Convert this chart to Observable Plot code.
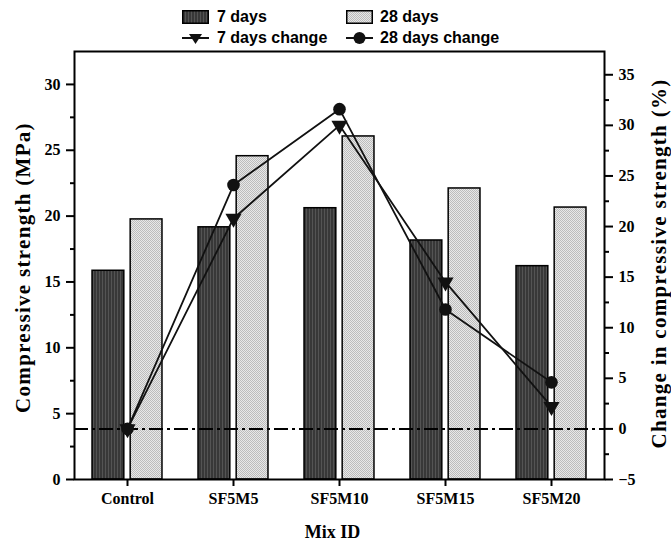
<!DOCTYPE html>
<html><head><meta charset="utf-8">
<script src="https://cdn.jsdelivr.net/npm/d3@7"></script>
<script src="https://cdn.jsdelivr.net/npm/@observablehq/plot@0.6"></script>
<style>
body{margin:0;background:#fff;}
#wrap{position:relative;width:671px;height:544px;overflow:hidden;}
#legend{position:absolute;left:0;top:0;width:671px;height:48px;font-family:"Liberation Sans",Arial,sans-serif;font-weight:bold;font-size:16px;color:#000;}
.sw{position:absolute;}
.lab{position:absolute;line-height:20px;white-space:nowrap;}
#chart{position:absolute;left:0;top:48px;}
</style></head><body>
<svg width="0" height="0" style="position:absolute">
<defs>
<pattern id="pDark" width="3" height="3" patternUnits="userSpaceOnUse"><rect width="3" height="3" fill="#383838"/><rect width="1" height="3" fill="#545454"/></pattern>
<pattern id="pLight" width="2" height="2" patternUnits="userSpaceOnUse"><rect width="2" height="2" fill="#e8e8e8"/><rect width="1" height="1" fill="#bcbcbc"/><rect x="1" y="1" width="1" height="1" fill="#bcbcbc"/></pattern>
</defs></svg>
<div id="wrap"><div id="legend"></div><div id="chart"></div></div>
<script>
// ---- data ----
const mixes = ["Control", "SF5M5", "SF5M10", "SF5M15", "SF5M20"];
const strength7 = [15.85, 19.15, 20.6, 18.15, 16.2];
const strength28 = [19.75, 24.55, 26.05, 22.1, 20.65];
const change7 = [0, 20.8, 30.0, 14.5, 2.2];
const change28 = [0, 24.1, 31.6, 11.8, 4.6];
const leftTicks = [0, 5, 10, 15, 20, 25, 30];
const leftMinor = [2.5, 7.5, 12.5, 17.5, 22.5, 27.5];
const rightTicks = [-5, 0, 5, 10, 15, 20, 25, 30, 35];
const rightMinor = [-2.5, 2.5, 7.5, 12.5, 17.5, 22.5, 27.5, 32.5];
const seriesNames = ["7 days", "28 days", "7 days change", "28 days change"];
const titles = ["Compressive strength (MPa)", "Change in compressive strength (%)", "Mix ID"];

// ---- scales ----
const leftDomain = [0, 32.5];
const rightDomain = [-5, 37.3];
const toLeft = r => (r - rightDomain[0]) * (leftDomain[1] - leftDomain[0]) / (rightDomain[1] - rightDomain[0]) + leftDomain[0];
const toRight = v => (v - leftDomain[0]) * (rightDomain[1] - rightDomain[0]) / (leftDomain[1] - leftDomain[0]) + rightDomain[0];

const rows = mixes.map((m, i) => ({mix: m, i, s7: strength7[i], s28: strength28[i], c7: change7[i], c28: change28[i]}));
const halfGap = 0.03, barW = 0.30;
const minus = v => (v < 0 ? "\u2212" + Math.abs(v) : String(v));

const chart = Plot.plot({
  width: 671,
  height: 496,
  marginTop: 3,
  marginBottom: 65,
  marginLeft: 74,
  marginRight: 67,
  style: {fontFamily: "'Liberation Serif','Times New Roman',serif", fontWeight: "bold", fontSize: "16px", color: "#000", background: "#fff", overflow: "visible"},
  x: {type: "linear", domain: [-0.5, 4.5]},
  y: {domain: leftDomain},
  marks: [
    Plot.rectY(rows, {x1: d => d.i - halfGap - barW, x2: d => d.i - halfGap, y1: 0, y2: "s7", fill: "url(#pDark)", stroke: "#000", strokeWidth: 1.5}),
    Plot.rectY(rows, {x1: d => d.i + halfGap, x2: d => d.i + halfGap + barW, y1: 0, y2: "s28", fill: "url(#pLight)", stroke: "#000", strokeWidth: 1.5}),
    Plot.ruleY([toLeft(0)], {stroke: "#000", strokeWidth: 2, strokeDasharray: "14,4,3,4"}),
    Plot.line(rows, {x: "i", y: d => toLeft(d.c7), stroke: "#111", strokeWidth: 1.8}),
    Plot.line(rows, {x: "i", y: d => toLeft(d.c28), stroke: "#111", strokeWidth: 1.8}),
    Plot.dot(rows, {x: "i", y: d => toLeft(d.c7), symbol: "triangle", rotate: 180, r: 6, fill: "#111", stroke: "none"}),
    Plot.dot(rows, {x: "i", y: d => toLeft(d.c28), symbol: "circle", r: 6.3, fill: "#111", stroke: "none"}),
    Plot.frame({stroke: "#000", strokeWidth: 2}),
    Plot.axisY({anchor: "left", ticks: leftTicks, tickSize: 8, tickPadding: 6, strokeWidth: 2, label: null}),
    Plot.axisY({anchor: "left", ticks: leftMinor, tickSize: 4, tickFormat: () => "", strokeWidth: 2, label: null}),
    Plot.axisY({anchor: "right", ticks: rightTicks.map(toLeft), tickSize: 8, tickPadding: 6, strokeWidth: 2, label: null, tickFormat: v => minus(Math.round(toRight(v)))}),
    Plot.axisY({anchor: "right", ticks: rightMinor.map(toLeft), tickSize: 4, tickFormat: () => "", strokeWidth: 2, label: null}),
    Plot.axisX({ticks: [0, 1, 2, 3, 4], tickFormat: i => mixes[i], tickSize: 7, tickPadding: 6, strokeWidth: 2, label: null}),
    Plot.text([titles[0]], {frameAnchor: "left", textAnchor: "middle", dx: -51, dy: 2, rotate: -90, fontSize: 21, fontWeight: "bold"}),
    Plot.text([titles[1]], {frameAnchor: "right", textAnchor: "middle", dx: 55, dy: -2, rotate: -90, fontSize: 21, fontWeight: "bold"}),
    Plot.text([titles[2]], {frameAnchor: "bottom", dx: -7, dy: 58, fontSize: 18, fontWeight: "bold"})
  ]
});
document.getElementById("chart").appendChild(chart);
// widen the rotated axis titles a little, as in the reference
chart.querySelectorAll("text").forEach(t => {
  if (t.textContent === titles[0] || t.textContent === titles[1]) t.style.letterSpacing = "1.3px";
});

// ---- legend ----
const legend = document.getElementById("legend");
const swatches = [
  {name: seriesNames[0], left: 182, top: 10, textLeft: 217, textTop: 7, svg: '<svg width="27" height="14"><rect x="0.75" y="0.75" width="25.5" height="12.5" fill="url(#pDark)" stroke="#000" stroke-width="1.5"/></svg>'},
  {name: seriesNames[1], left: 346, top: 10, textLeft: 380, textTop: 7, svg: '<svg width="27" height="14"><rect x="0.75" y="0.75" width="25.5" height="12.5" fill="url(#pLight)" stroke="#000" stroke-width="1.5"/></svg>'},
  {name: seriesNames[2], left: 182, top: 31, textLeft: 217, textTop: 28, svg: '<svg width="27" height="14"><line x1="0" y1="7" x2="27" y2="7" stroke="#111" stroke-width="2"/><path d="M7,3 L20,3 L13.5,13 Z" fill="#111"/></svg>'},
  {name: seriesNames[3], left: 346, top: 31, textLeft: 380, textTop: 28, svg: '<svg width="27" height="14"><line x1="0" y1="7" x2="27" y2="7" stroke="#111" stroke-width="2"/><circle cx="13.5" cy="7" r="6" fill="#111"/></svg>'}
];
swatches.forEach(s => {
  const g = document.createElement("div");
  g.className = "sw";
  g.style.left = s.left + "px";
  g.style.top = s.top + "px";
  g.innerHTML = s.svg;
  legend.appendChild(g);
  const t = document.createElement("div");
  t.className = "lab";
  t.style.left = s.textLeft + "px";
  t.style.top = s.textTop + "px";
  t.textContent = s.name;
  legend.appendChild(t);
});
</script>
</body></html>
